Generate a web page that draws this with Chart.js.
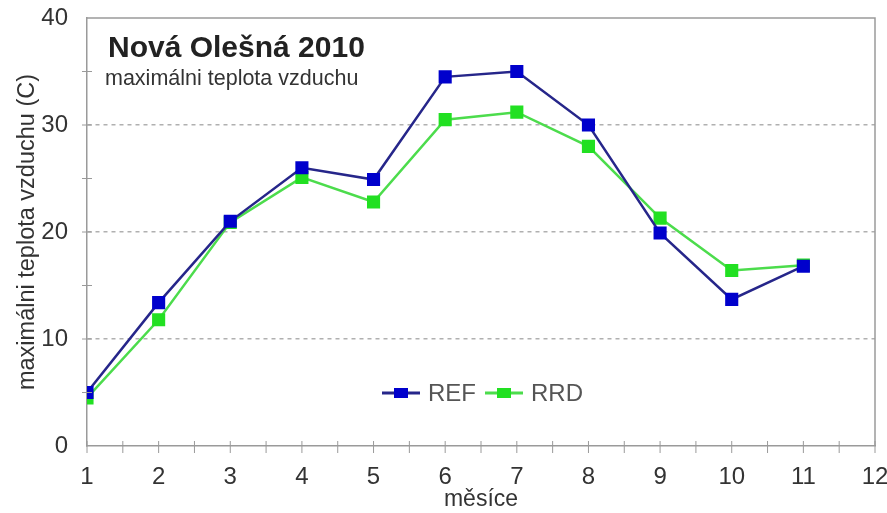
<!DOCTYPE html>
<html>
<head>
<meta charset="utf-8">
<script src="https://cdn.jsdelivr.net/npm/chart.js@4/dist/chart.umd.min.js"></script>
<style>
  html, body { margin: 0; padding: 0; background: #fff; }
  #wrap { width: 887px; height: 513px; position: relative; }
</style>
</head>
<body>
<div id="wrap"><canvas id="tempChart"></canvas></div>
<script>
const months = [1, 2, 3, 4, 5, 6, 7, 8, 9, 10, 11];
const refValues = [5.0, 13.4, 21.0, 26.0, 24.9, 34.5, 35.0, 30.0, 19.9, 13.7, 16.8];
const rrdValues = [4.5, 11.8, 20.9, 25.1, 22.8, 30.5, 31.2, 28.0, 21.3, 16.4, 16.9];
const yTicks = [0, 10, 20, 30, 40];
const chartTitle = "Nová Olešná 2010";
const chartSubtitle = "maximálni teplota vzduchu";
const xTitle = "měsíce";
const yTitle = "maximálni teplota vzduchu (C)";

const FONT = "'Liberation Sans', Arial, sans-serif";
const AXIS_COLOR = "#9a9a9a";

// frame, crossing tick marks, title and in-plot legend
const decorPlugin = {
  id: "decor",
  afterDraw(chart) {
    const { ctx, chartArea: a, scales } = chart;
    const x = scales.x;
    const y = scales.y;

    ctx.save();
    ctx.strokeStyle = AXIS_COLOR;
    ctx.lineWidth = 1.5;
    ctx.beginPath();
    ctx.moveTo(a.left, a.top);
    ctx.lineTo(a.right, a.top);
    ctx.lineTo(a.right, a.bottom);
    ctx.stroke();

    ctx.lineWidth = 1;
    ctx.beginPath();
    for (let v = 1; v <= 12; v += 0.5) {
      const px = x.getPixelForValue(v);
      ctx.moveTo(px, a.bottom - 5);
      ctx.lineTo(px, a.bottom + 7);
    }
    for (let v = 5; v < 40; v += 5) {
      const py = y.getPixelForValue(v);
      ctx.moveTo(a.left - 5, py);
      ctx.lineTo(a.left + 5, py);
    }
    ctx.stroke();

    ctx.fillStyle = "#222";
    ctx.textBaseline = "alphabetic";
    ctx.font = "bold 30px " + FONT;
    ctx.fillText(chartTitle, 108, 57);
    ctx.fillStyle = "#333";
    ctx.font = "21.5px " + FONT;
    ctx.fillText(chartSubtitle, 105, 85);

    const items = [
      { label: "REF", ds: chart.data.datasets[0], x0: 382 },
      { label: "RRD", ds: chart.data.datasets[1], x0: 485 }
    ];
    const ly = 393;
    items.forEach((it) => {
      ctx.strokeStyle = it.ds.borderColor;
      ctx.lineWidth = 3;
      ctx.beginPath();
      ctx.moveTo(it.x0, ly);
      ctx.lineTo(it.x0 + 38, ly);
      ctx.stroke();
      ctx.fillStyle = it.ds.pointBackgroundColor;
      ctx.fillRect(it.x0 + 12, ly - 5, 14, 10);
      ctx.fillStyle = "#555";
      ctx.font = "24px " + FONT;
      ctx.textBaseline = "middle";
      ctx.fillText(it.label, it.x0 + 46, ly + 1);
    });
    ctx.restore();
  }
};

const ctx = document.getElementById("tempChart").getContext("2d");

const chart = new Chart(ctx, {
  type: "line",
  data: {
    labels: months,
    datasets: [
      {
        label: "REF",
        data: months.map((m, i) => ({ x: m, y: refValues[i] })),
        borderColor: "#26268a",
        backgroundColor: "#0000cc",
        pointBackgroundColor: "#0000cc",
        pointBorderColor: "#0000cc",
        borderWidth: 2.5,
        pointStyle: "rect",
        pointRadius: 7.5,
        tension: 0
      },
      {
        label: "RRD",
        data: months.map((m, i) => ({ x: m, y: rrdValues[i] })),
        borderColor: "#4cdc4c",
        backgroundColor: "#22e022",
        pointBackgroundColor: "#22e022",
        pointBorderColor: "#22e022",
        borderWidth: 2.5,
        pointStyle: "rect",
        pointRadius: 7.5,
        tension: 0
      }
    ]
  },
  options: {
    responsive: true,
    maintainAspectRatio: false,
    animation: false,
    layout: {
      padding: { top: 18, right: 12, left: 0, bottom: 0 }
    },
    plugins: {
      legend: { display: false },
      tooltip: { enabled: false }
    },
    scales: {
      x: {
        type: "linear",
        min: 1,
        max: 12,
        ticks: {
          stepSize: 1,
          color: "#333",
          font: { family: FONT, size: 24 },
          padding: 17,
          maxRotation: 0
        },
        grid: { display: false, drawTicks: false },
        border: { display: true, color: AXIS_COLOR, width: 1.5 },
        title: {
          display: true,
          text: xTitle,
          color: "#333",
          font: { family: FONT, size: 23 },
          padding: { top: 0, bottom: 0 }
        },
        afterFit(scale) {
          scale.height = 67;
          scale.paddingLeft = 0;
          scale.paddingRight = 0;
        }
      },
      y: {
        min: 0,
        max: 40,
        afterBuildTicks(scale) {
          scale.ticks = yTicks.map((v) => ({ value: v }));
        },
        ticks: {
          color: "#333",
          font: { family: FONT, size: 24 },
          padding: 19
        },
        grid: {
          drawTicks: false,
          color: (c) => (c.tick && c.tick.value > 0 && c.tick.value < 40 ? "#b0b0b0" : "rgba(0,0,0,0)"),
          lineWidth: 1.5
        },
        border: { display: true, color: AXIS_COLOR, width: 1.5, dash: [4, 4] },
        title: {
          display: true,
          text: yTitle,
          color: "#333",
          font: { family: FONT, size: 23.5 },
          padding: { top: 13, bottom: 0 }
        },
        afterFit(scale) {
          scale.width = 87;
          scale.paddingTop = 0;
          scale.paddingBottom = 0;
        }
      }
    }
  },
  plugins: [decorPlugin]
});
</script>
</body>
</html>
